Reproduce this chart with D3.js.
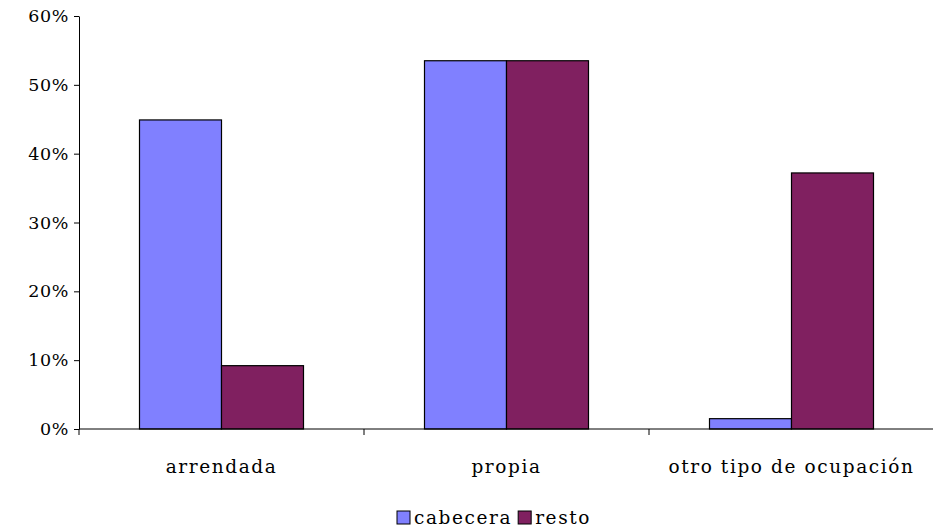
<!DOCTYPE html>
<html><head><meta charset="utf-8">
<script src="https://cdn.jsdelivr.net/npm/d3@7"></script>
<style>body{margin:0;background:#fff}svg text{font-family:"DejaVu Serif",serif !important;font-size:17.5px !important;fill:#000;letter-spacing:0.6px}
svg text.wide{font-size:18.5px !important;letter-spacing:1.6px}</style>
</head><body><svg id="c" width="933" height="532"></svg>
<script>
const categories = ["arrendada","propia","otro tipo de ocupación"];
const seriesNames = ["cabecera","resto"];
const cabecera = [0.449, 0.535, 0.015];
const resto = [0.092, 0.535, 0.372];
const yTicks = [0,0.1,0.2,0.3,0.4,0.5,0.6];
const colors = ["#8080ff","#802060"];

const svg = d3.select("#c");
const x = d3.scaleBand().domain(categories).range([79,934]);
const y = d3.scaleLinear().domain([0,0.6]).range([429,16]);
const bw = 82;

svg.append("g").attr("transform","translate(79,0)")
  .call(d3.axisLeft(y).tickValues(yTicks).tickFormat(d3.format(".0%")).tickSize(5).tickSizeOuter(0))
  .call(g=>{g.select(".domain").attr("stroke","#000");g.selectAll("text").attr("dx","-2");});

const data = [cabecera, resto];
data.forEach((vals,si)=>{
  svg.append("g").selectAll("rect").data(vals).join("rect")
    .attr("x",(d,i)=>x(categories[i])+x.bandwidth()/2 - bw + si*bw)
    .attr("width",bw)
    .attr("y",d=>y(d)).attr("height",d=>y(0)-y(d))
    .attr("fill",colors[si]).attr("stroke","#000").attr("stroke-width",1.2);
});

svg.append("line").attr("x1",79).attr("x2",934).attr("y1",429).attr("y2",429).attr("stroke","#000");
const bounds = [79, ...categories.map(c=>x(c)+x.bandwidth())];
svg.selectAll(".xt").data(bounds).join("line")
  .attr("x1",d=>d).attr("x2",d=>d).attr("y1",429).attr("y2",435).attr("stroke","#000");
svg.selectAll(".xl").data(categories).join("text").attr("class","wide")
  .attr("x",d=>x(d)+x.bandwidth()/2).attr("y",473).attr("text-anchor","middle").text(d=>d);

const lg = svg.append("g");
let lx = 397;
seriesNames.forEach((n,i)=>{
  lg.append("rect").attr("x",lx).attr("y",511).attr("width",13).attr("height",13)
    .attr("fill",colors[i]).attr("stroke","#000");
  const t = lg.append("text").attr("class","wide").attr("x",lx+17).attr("y",524).text(n);
  lx += 17 + t.node().getComputedTextLength() + 6;
});
</script></body></html>
